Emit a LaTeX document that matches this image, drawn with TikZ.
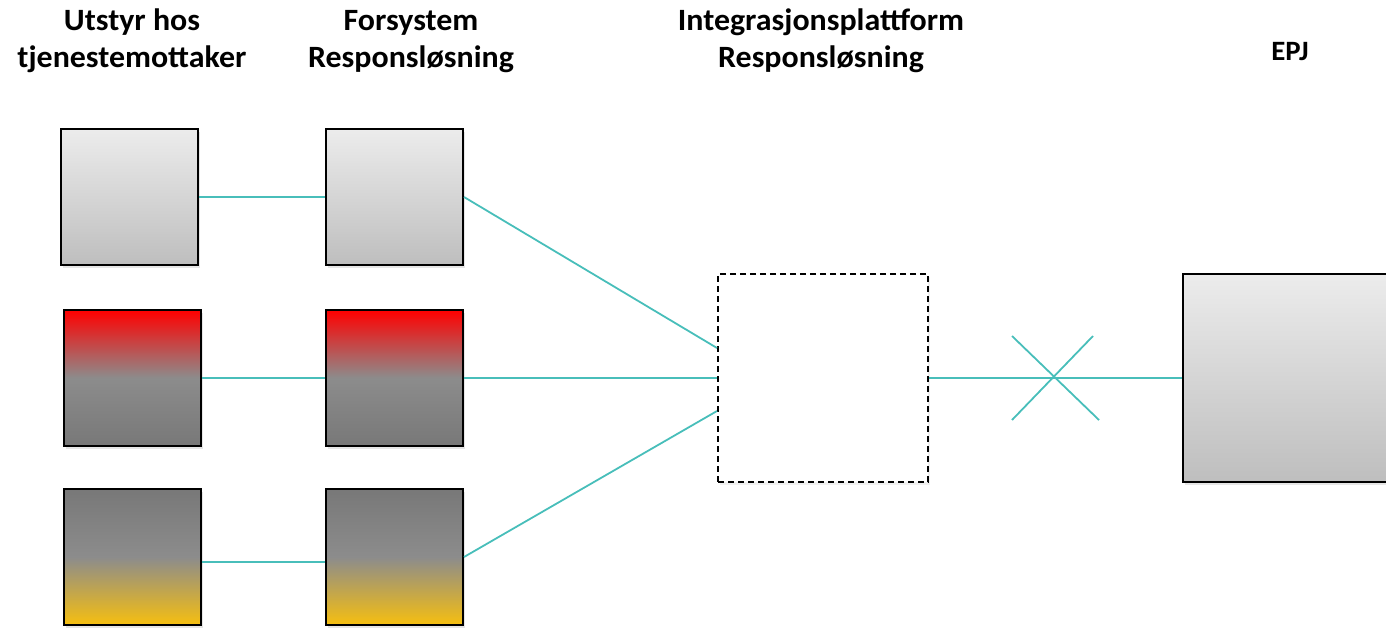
\documentclass[tikz,border=0pt]{standalone}
\usepackage{fontspec}
\setmainfont{Carlito}
\newfontfamily\titlefont[FakeStretch=1.03]{Carlito}
\usetikzlibrary{shadows}
\definecolor{teal}{RGB}{72,190,186}
\definecolor{lgtop}{RGB}{236,236,236}
\definecolor{lgbot}{RGB}{190,190,190}
\definecolor{midgray}{RGB}{140,140,140}
\definecolor{darkgray}{RGB}{120,120,120}
\definecolor{gold}{RGB}{246,191,16}
\tikzset{
  box/.style={draw=black, line width=2pt, minimum width=137pt, minimum height=136pt, inner sep=0pt,
    drop shadow={opacity=0.2, shadow xshift=1.5pt, shadow yshift=-3pt}},
  graybox/.style={box, top color=lgtop, bottom color=lgbot},
  redbox/.style={box, top color=red, bottom color=darkgray, middle color=midgray},
  yellowbox/.style={box, top color=darkgray, bottom color=gold, middle color=midgray},
  dashbox/.style={draw=black, line width=2pt, dash pattern=on 6pt off 4pt, minimum width=210pt, minimum height=208pt, inner sep=0pt, fill=white,
    drop shadow={opacity=0.12, shadow xshift=1.5pt, shadow yshift=-3pt}},
  link/.style={draw=teal, line width=1.8pt},
  title/.style={font=\titlefont\fontsize{31}{37}\selectfont\bfseries, align=center, anchor=base, inner sep=0pt}
}
\begin{document}
\begin{tikzpicture}[x=1pt,y=-1pt]
\useasboundingbox (0,0) rectangle (1386,627);
\clip (0,0) rectangle (1386,627);
% titles
\node[title] (t1) at (132,67) {Utstyr hos\\tjenestemottaker};
\node[title] (t2) at (411,67) {Forsystem\\Responsløsning};
\node[title] (t3) at (821,67) {Integrasjonsplattform\\Responsløsning};
\node[title, font=\titlefont\fontsize{28}{34}\selectfont\bfseries] (t4) at (1290,60) {EPJ};
% boxes
\node[graybox] (a1) at (129.5,197) {};
\node[redbox] (a2) at (132.5,378) {};
\node[yellowbox] (a3) at (132.5,557) {};
\node[graybox] (b1) at (394.5,197) {};
\node[redbox] (b2) at (394.5,378) {};
\node[yellowbox] (b3) at (394.5,557) {};
\node[dashbox] (d) at (823,378) {};
\node[graybox, minimum width=210pt, minimum height=208pt] (epj) at (1288,378) {};
% connectors
\draw[link] (a1.east) -- (b1.west);
\draw[link] (a2.east) -- (b2.west);
\draw[link] ([yshift=-5pt]a3.east) -- ([yshift=-5pt]b3.west);
\draw[link] (b1.east) -- ([yshift=30pt]d.west);
\draw[link] (b2.east) -- (d.west);
\draw[link] (b3.east) -- ([yshift=-33pt]d.west);
\draw[link] (d.east) -- (epj.west);
% cross
\coordinate (c1) at (1012,336);
\coordinate (c2) at (1099,420);
\coordinate (c3) at (1093,336);
\coordinate (c4) at (1012,420);
\draw[link] (c1) -- (c2);
\draw[link] (c3) -- (c4);
\end{tikzpicture}
\end{document}
